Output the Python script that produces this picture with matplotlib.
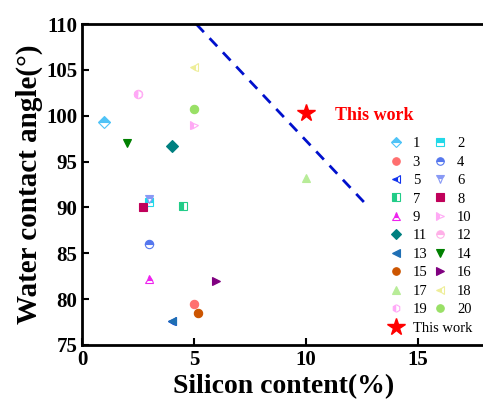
import matplotlib
matplotlib.use("Agg")
import matplotlib.pyplot as plt

plt.rcParams['font.family'] = ['Liberation Serif', 'DejaVu Serif']

# literature data: silicon content (%) vs water contact angle (deg)
labels = [str(i) for i in range(1, 21)]
si_content = [1.0, 3.0, 5.0, 3.0, 4.0, 3.0, 4.5, 2.7, 3.0, 5.0,
              4.0, 2.5, 4.0, 2.0, 5.2, 6.0, 10.0, 5.0, 2.5, 5.0]
contact_angle = [99.3, 90.6, 79.5, 86.0, 77.6, 90.9, 90.1, 90.0, 82.2, 99.0,
                 96.7, 102.4, 77.6, 97.0, 78.5, 82.0, 93.2, 105.3, 102.4, 100.7]
markers = ['D', 's', 'o', 'o', '<', 'v', 's', 's', '^', '>',
           'D', 'o', '<', 'v', 'o', '>', '^', '<', 'h', 'o']
colors = ['#4fc3f7', '#22d8e8', '#ff6f6f', '#5577ee', '#1133ee', '#8899f5', '#22cc88', '#c0005a',
          '#ee22ee', '#ffaaf5', '#008080', '#ffb0e8', '#1f6fb4', '#008000', '#cc5500', '#800080',
          '#b8ec98', '#eeee99', '#ffa8f8', '#99e066']
fills = ['top', 'top', 'full', 'top', 'left', 'top', 'left', 'full', 'top', 'left',
         'full', 'top', 'full', 'full', 'full', 'full', 'full', 'left', 'left', 'full']

this_x = [10.0]
this_y = [100.3]

# dashed boundary line
line_x = [5.1, 12.7]
line_y = [110.0, 90.3]

fig = plt.figure(figsize=(4.83, 4.01), dpi=100)
ax = fig.add_axes([0.170, 0.140, 0.834, 0.800])

handles = []
for i in range(len(labels)):
    h, = ax.plot(si_content[i], contact_angle[i], linestyle='none', marker=markers[i],
                 color=colors[i], markersize=6, fillstyle=fills[i],
                 markerfacecoloralt='white', markeredgewidth=0.8, label=labels[i])
    handles.append(h)

ax.plot(line_x, line_y, color='#0010cc', linewidth=2, linestyle=(0, (4, 3)))

star, = ax.plot(this_x, this_y, linestyle='none', marker='*', color='red',
                markersize=13, label='This work')
ax.text(11.3, 100.0, 'This work', color='red', fontsize=13, fontweight='bold',
        va='center', ha='left')

ax.set_xlim(0, 18)
ax.set_ylim(75, 110)
ax.set_xticks([0, 5, 10, 15])
ax.set_yticks([75, 80, 85, 90, 95, 100, 105, 110])
ax.tick_params(direction='in', length=5, width=1.5, labelsize=15)
for lab in ax.get_xticklabels() + ax.get_yticklabels():
    lab.set_fontweight('bold')
for sp in ax.spines.values():
    sp.set_linewidth(2)

ax.set_xlabel('Silicon content(%)', fontsize=20, fontweight='bold', labelpad=3)
ax.set_ylabel('Water contact angle(°)', fontsize=21, fontweight='bold', labelpad=2)

# row-major order: 1 2 / 3 4 / ...
order = handles[0::2] + handles[1::2]
leg = ax.legend(handles=order, labels=[h.get_label() for h in order], ncol=2,
                frameon=False, fontsize=10.5, loc='upper left', markerscale=0.9,
                bbox_to_anchor=(0.757, 0.648), handlelength=1.2, handletextpad=0.55,
                columnspacing=0.3, labelspacing=0.36, borderaxespad=0, borderpad=0)
ax.add_artist(leg)
ax.legend(handles=[star], labels=['This work'], frameon=False, fontsize=10.5,
          loc='upper left', bbox_to_anchor=(0.757, 0.072), handlelength=1.2,
          handletextpad=0.55, borderaxespad=0, borderpad=0)

fig.savefig('out.png', dpi=100)
